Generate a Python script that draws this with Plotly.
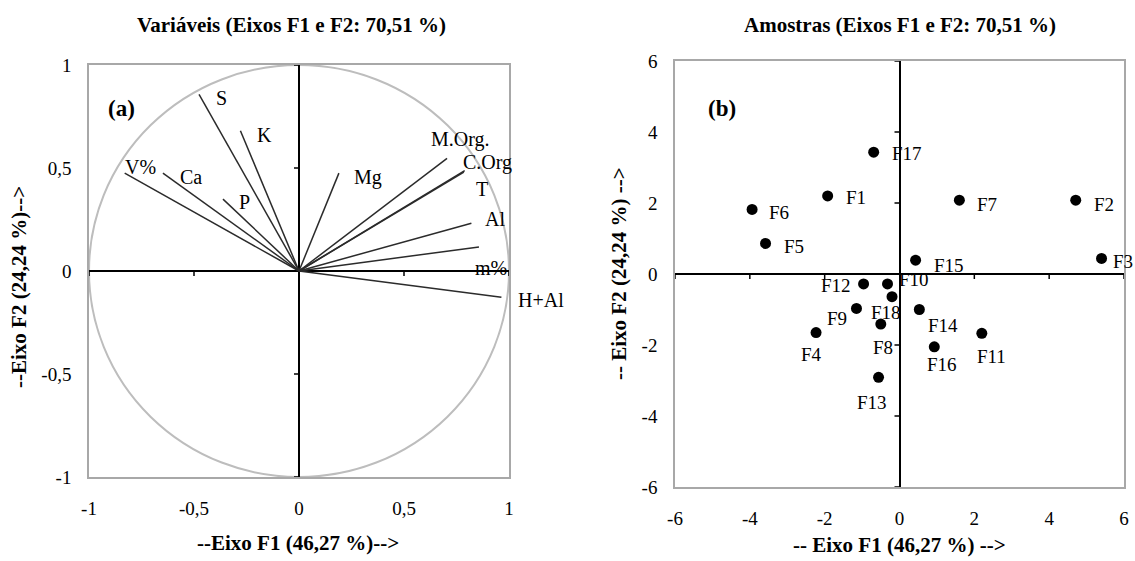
import plotly.graph_objects as go

# ---- Variable loadings (correlation circle, F1 x F2) ----
var_names = ["V%", "Ca", "S", "K", "P", "Mg", "M.Org.", "C.Org", "T", "Al", "m%", "H+Al"]
var_f1 = [-0.830, -0.648, -0.476, -0.279, -0.362, 0.190, 0.705, 0.789, 0.785, 0.821, 0.857, 0.964]
var_f2 = [0.475, 0.475, 0.857, 0.681, 0.349, 0.475, 0.547, 0.487, 0.480, 0.232, 0.117, -0.127]

# ---- Sample scores (F1 x F2) ----
smp_names = ["F1", "F2", "F3", "F4", "F5", "F6", "F7", "F8", "F9", "F10",
             "F11", "F12", "F13", "F14", "F15", "F16", "F17", "F18"]
smp_f1 = [-1.92, 4.71, 5.40, -2.23, -3.58, -3.94, 1.60, -0.50, -1.15, -0.32,
          2.20, -0.96, -0.56, 0.53, 0.43, 0.93, -0.69, -0.20]
smp_f2 = [2.20, 2.08, 0.44, -1.65, 0.86, 1.82, 2.08, -1.41, -0.97, -0.28,
          -1.67, -0.28, -2.91, -1.00, 0.39, -2.05, 3.43, -0.64]

# ---- Tick labels ----
circ_ticks = [-1, -0.5, 0, 0.5, 1]
circ_ticktext = ["-1", "-0,5", "0", "0,5", "1"]
obs_ticks = [-6, -4, -2, 0, 2, 4, 6]
obs_ticktext = ["-6", "-4", "-2", "0", "2", "4", "6"]

# label placement (pixel offsets: xanchor, xshift, yshift)
var_lab = {
    "V%": ("center", 16, 6), "Ca": ("center", 28, -4), "S": ("center", 22, -4),
    "K": ("center", 24, -4), "P": ("center", 22, -3), "Mg": ("center", 29, -4),
    "M.Org.": ("center", 13, 19), "C.Org": ("center", 23, 8), "T": ("center", 18, -17),
    "Al": ("center", 24, 4), "m%": ("center", 12, -21), "H+Al": ("center", 40, -3),
}
smp_lab = {
    "F1": ("left", 16, -2), "F2": ("left", 16, -4), "F3": ("left", 9, -3),
    "F4": ("center", -5, -22), "F5": ("left", 16, -3), "F6": ("left", 15, -3),
    "F7": ("left", 16, -4), "F8": ("center", 2, -23), "F9": ("center", -19, -10),
    "F10": ("left", 9, 4), "F11": ("center", 10, -23), "F12": ("right", -11, -2),
    "F13": ("center", -7, -25), "F14": ("center", 24, -16), "F15": ("left", 16, -5),
    "F16": ("center", 8, -18), "F17": ("left", 16, -1), "F18": ("center", -6, -16),
}

SERIF = "Times New Roman, Liberation Serif, serif"
W, H = 1135, 561

fig = go.Figure()

# vectors from the origin
vx, vy = [], []
for a, b in zip(var_f1, var_f2):
    vx += [0, a, None]
    vy += [0, b, None]
fig.add_trace(go.Scatter(x=vx, y=vy, mode="lines", line=dict(color="#2b2b2b", width=1.5),
                         hoverinfo="skip", showlegend=False, xaxis="x", yaxis="y"))

# sample points
fig.add_trace(go.Scatter(x=smp_f1, y=smp_f2, mode="markers",
                         marker=dict(color="black", size=11), text=smp_names,
                         showlegend=False, xaxis="x2", yaxis="y2"))

axis_common = dict(showgrid=False, zeroline=True, zerolinecolor="black", zerolinewidth=1.5,
                   showline=True, mirror=True, linecolor="#a8a8a8", linewidth=1.5,
                   ticks="", automargin=False,
                   tickfont=dict(family=SERIF, size=19, color="black"))

fig.update_layout(
    width=W, height=H, margin=dict(l=0, r=0, t=0, b=0, autoexpand=False),
    paper_bgcolor="white", plot_bgcolor="white",
    xaxis=dict(domain=[89 / W, 509 / W], range=[-1, 1], tickvals=circ_ticks,
               ticktext=circ_ticktext, anchor="y", ticklabelstandoff=13, **axis_common),
    yaxis=dict(domain=[1 - 477 / H, 1 - 65 / H], range=[-1, 1], tickvals=circ_ticks,
               ticktext=circ_ticktext, anchor="x", ticklabelstandoff=12, **axis_common),
    xaxis2=dict(domain=[675 / W, 1124 / W], range=[-6, 6], tickvals=obs_ticks,
                ticktext=obs_ticktext, anchor="y2", ticklabelstandoff=13, **axis_common),
    yaxis2=dict(domain=[1 - 487 / H, 1 - 61 / H], range=[-6, 6], tickvals=obs_ticks,
                ticktext=obs_ticktext, anchor="x2", ticklabelstandoff=12, **axis_common),
)

shapes = []
# unit circle
shapes.append(dict(type="circle", xref="x", yref="y", x0=-1, y0=-1, x1=1, y1=1,
                   line=dict(color="#bdbdbd", width=2), layer="below"))

# small tick marks on the central axes
def axis_marks(xr, yr, vals):
    out = []
    for v in vals:
        if v == 0:
            continue
        out.append(dict(type="line", xref=xr, yref=yr, x0=v, x1=v, ysizemode="pixel",
                        yanchor=0, y0=0, y1=-5, line=dict(color="black", width=1.5)))
        out.append(dict(type="line", xref=xr, yref=yr, y0=v, y1=v, xsizemode="pixel",
                        xanchor=0, x0=0, x1=-5, line=dict(color="black", width=1.5)))
    return out

shapes += axis_marks("x", "y", circ_ticks)
shapes += axis_marks("x2", "y2", obs_ticks)
fig.update_layout(shapes=shapes)

ann = []
for n, a, b in zip(var_names, var_f1, var_f2):
    xa, dx, dy = var_lab[n]
    ann.append(dict(x=a, y=b, xref="x", yref="y", text=n, showarrow=False, xanchor=xa,
                    yanchor="middle", xshift=dx, yshift=dy,
                    font=dict(family=SERIF, size=20, color="black")))
for n, a, b in zip(smp_names, smp_f1, smp_f2):
    xa, dx, dy = smp_lab[n]
    ann.append(dict(x=a, y=b, xref="x2", yref="y2", text=n, showarrow=False, xanchor=xa,
                    yanchor="middle", xshift=dx, yshift=dy,
                    font=dict(family=SERIF, size=19, color="black")))

bold = dict(family=SERIF, size=21, color="black")
titles = [
    ("<b>Variáveis (Eixos F1 e F2: 70,51 %)</b>", 291.5, 25, 0),
    ("<b>Amostras (Eixos F1 e F2: 70,51 %)</b>", 900, 25, 0),
    ("<b>--Eixo F1 (46,27 %)--></b>", 298, 543, 0),
    ("<b>-- Eixo F1 (46,27 %) --></b>", 900, 545, 0),
    ("<b>--Eixo F2 (24,24 %)--></b>", 19, 287, -90),
    ("<b>-- Eixo F2 (24,24 %) --></b>", 619, 274, -90),
]
for t, px, py, rot in titles:
    ann.append(dict(x=px / W, y=1 - py / H, xref="paper", yref="paper", text=t,
                    showarrow=False, xanchor="center", yanchor="middle", textangle=rot,
                    font=bold))

for t, px, py in [("<b>(a)</b>", 121.7, 108.3), ("<b>(b)</b>", 721.7, 108.3)]:
    ann.append(dict(x=px / W, y=1 - py / H, xref="paper", yref="paper", text=t,
                    showarrow=False, xanchor="center", yanchor="middle",
                    font=dict(family=SERIF, size=23, color="black")))

fig.update_layout(annotations=ann)
fig.write_html("out.html")
